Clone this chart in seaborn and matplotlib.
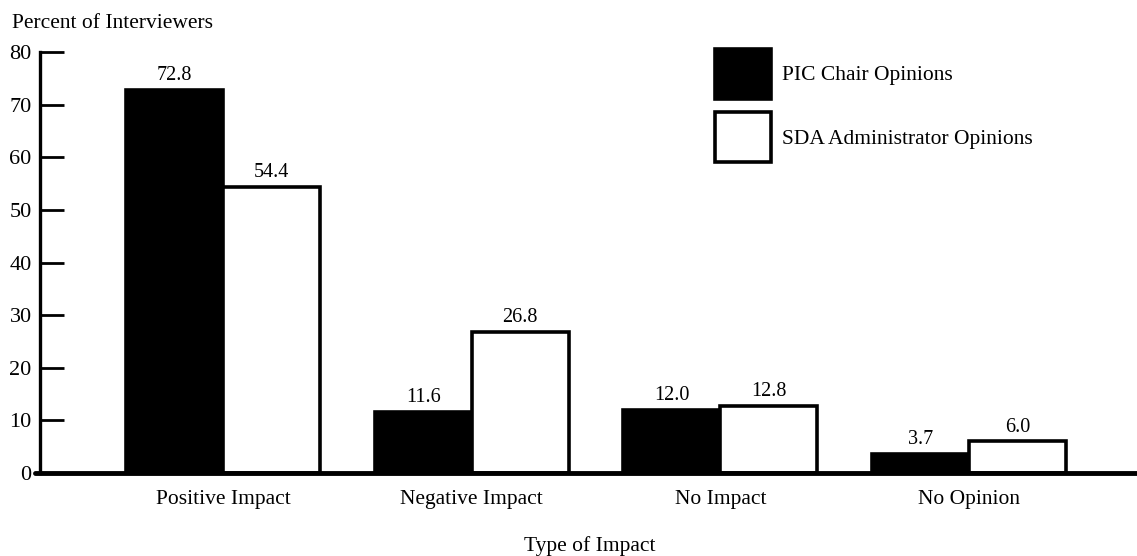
import matplotlib
matplotlib.use("Agg")
import matplotlib.pyplot as plt
from matplotlib.patches import Patch, Rectangle
from matplotlib.legend_handler import HandlerPatch
import pandas as pd
import seaborn as sns

# Survey results: share of interviewees reporting each type of impact
impact_types = ["Positive Impact", "Negative Impact", "No Impact", "No Opinion"]
pic_chair = [72.8, 11.6, 12.0, 3.7]
sda_admin = [54.4, 26.8, 12.8, 6.0]
series_names = ["PIC Chair Opinions", "SDA Administrator Opinions"]
y_ticks = [0, 10, 20, 30, 40, 50, 60, 70, 80]

df = pd.DataFrame({
    "Type of Impact": impact_types * 2,
    "Percent": pic_chair + sda_admin,
    "Respondent": [series_names[0]] * len(impact_types) + [series_names[1]] * len(impact_types),
})

sns.set_theme(style="white")
plt.rcParams["font.family"] = ["Liberation Serif", "DejaVu Serif"]
for key in ("text.color", "axes.labelcolor", "xtick.color", "ytick.color", "axes.edgecolor"):
    plt.rcParams[key] = "black"

W, H = 1137, 556
fig = plt.figure(figsize=(W / 100, H / 100), dpi=100)
ax_left, ax_bottom_px, ax_top_px = 40, 473, 52
ax = fig.add_axes([ax_left / W, 1 - ax_bottom_px / H, 1 - ax_left / W,
                   (ax_bottom_px - ax_top_px) / H])

sns.barplot(
    data=df, x="Type of Impact", y="Percent", hue="Respondent",
    order=impact_types, hue_order=series_names,
    palette=["black", "white"], saturation=1,
    edgecolor="black", linewidth=2.6, width=0.78,
    legend=False, ax=ax,
)

for container in ax.containers:
    ax.bar_label(container, fmt="%.1f", padding=3.5, fontsize=14.5)

ax.set_xlim(-0.736, 3.676)
ax.set_ylim(0, 80)
ax.set_yticks(y_ticks)

for side in ("top", "right", "bottom"):
    ax.spines[side].set_visible(False)
ax.spines["left"].set_linewidth(2.4)
ax.axhline(0, xmin=-0.005, xmax=1.0, color="black", linewidth=3.5, clip_on=False, zorder=5)

ax.tick_params(axis="y", left=True, direction="in", length=17, width=2,
               labelsize=16, pad=6)
ax.tick_params(axis="x", bottom=False, length=0, labelsize=15.5, pad=12)

span_w = W - ax_left
span_h = ax_bottom_px - ax_top_px
ax.set_xlabel("Type of Impact", fontsize=15.5, va="center")
ax.xaxis.set_label_coords((590 - ax_left) / span_w, -(546 - ax_bottom_px) / span_h)
ax.set_ylabel("Percent of Interviewers", fontsize=15.5, rotation=0, ha="left", va="center")
ax.yaxis.set_label_coords((12 - ax_left) / span_w, (ax_bottom_px - 23) / span_h)


# Large square legend keys (about 55 x 50 px), centred on each legend row
def square_key(legend, orig_handle, xdescent, ydescent, width, height, fontsize):
    key_h = 36.0
    y0 = -ydescent + height / 2 - key_h / 2
    return Rectangle((-xdescent, y0), width, key_h)


handles = [
    Patch(facecolor="black", edgecolor="black", linewidth=2.6),
    Patch(facecolor="white", edgecolor="black", linewidth=2.6),
]
fig.legend(
    handles, series_names, loc="upper left",
    bbox_to_anchor=(715 / W, 1 - 57 / H), bbox_transform=fig.transFigure,
    frameon=False, fontsize=15.5, handlelength=2.6, handleheight=2.0,
    labelspacing=1.42, handletextpad=0.5, borderpad=0, borderaxespad=0,
    handler_map={Patch: HandlerPatch(patch_func=square_key)},
)

fig.savefig("out.png", dpi=100, facecolor="white")
